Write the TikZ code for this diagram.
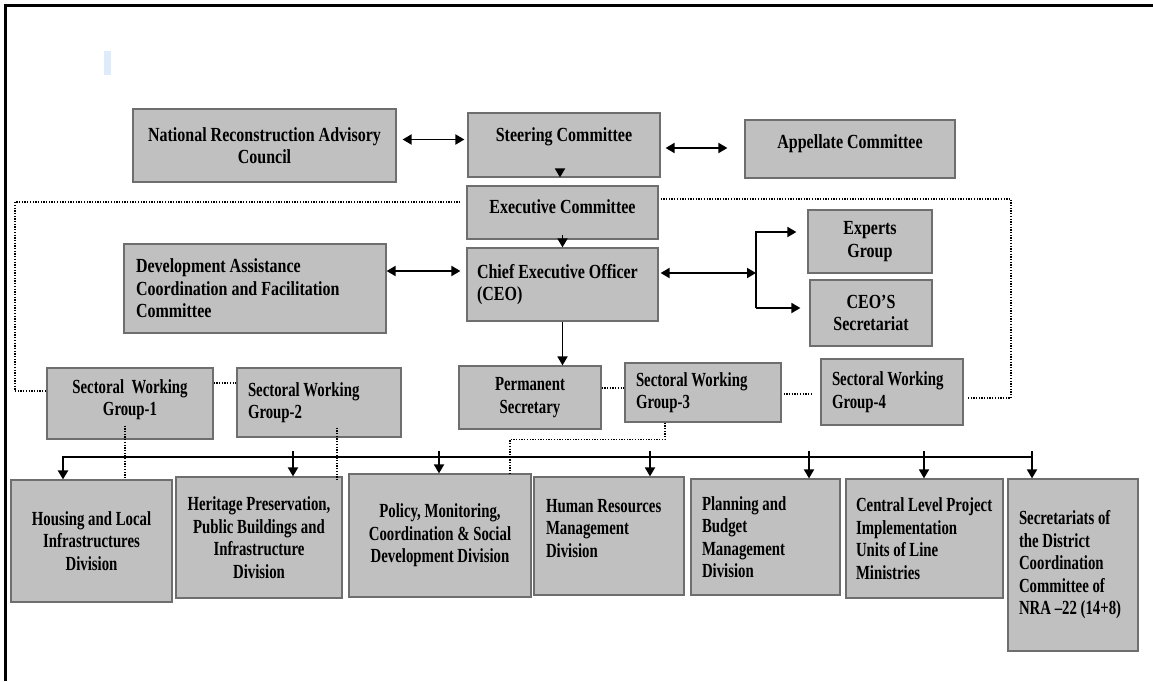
\documentclass[tikz,border=0pt]{standalone}
\usepackage{fontspec}
\setmainfont{Liberation Serif}[FakeStretch=0.8]
\newfontfamily\narrowserif{Liberation Serif}[FakeStretch=0.74]
\usetikzlibrary{arrows.meta}

\definecolor{boxfill}{RGB}{192,192,192}
\definecolor{boxline}{RGB}{110,110,110}
\definecolor{markblue}{RGB}{222,235,251}

\begin{document}
\begin{tikzpicture}[x=1pt, y=-1pt,
    unit/.style={draw=boxline, fill=boxfill, line width=1.2pt, inner sep=0pt,
        font=\fontsize{20}{22.5}\selectfont\bfseries},
    lower/.style={unit, font=\fontsize{20}{22.5}\selectfont\narrowserif\bfseries},
    sz/.style 2 args={minimum width=#1pt, minimum height=#2pt},
    mid/.style={align=center},
    flush/.style 2 args={align=flush left, text width=#1, inner xsep=#2},
    link/.style={line width=1.8pt, -{Triangle[length=9pt,width=10pt]}},
    both/.style={line width=1.9pt, {Triangle[length=9pt,width=10pt]}-{Triangle[length=9pt,width=10pt]}},
    dots/.style={line width=1.3pt, dash pattern=on 1.3pt off 1.4pt}]

\useasboundingbox (0,0) rectangle (1153,681);

% frame
    \draw[line width=3pt] (5,681) -- (5,5.5) -- (1153,5.5);
    \fill[markblue] (104,51) rectangle (111,75);

% top row
    \node[unit, sz={263}{73}, mid] (nrac) at (264.5,145.5) {National Reconstruction Advisory\\Council};
    \node[unit, sz={192}{64}, mid, text depth=20pt] (steer) at (564,145) {Steering Committee};
    \node[unit, sz={210}{58}, mid, text depth=14pt] (app) at (850,149) {Appellate Committee};

% executive level
    \node[unit, sz={191}{53}, mid, text depth=11pt] (exec) at (562.5,212.5) {Executive Committee};
    \node[unit, sz={191}{73}, flush={171pt}{10pt}] (ceo) at (562.5,284.5) {Chief Executive Officer\\(CEO)};
    \node[unit, sz={262}{89}, flush={238pt}{12pt}] (devcom) at (255,288.5) {Development Assistance\\Coordination and Facilitation\\Committee};
    \node[unit, sz={124}{63}, mid] (experts) at (870,241.5) {Experts\\Group};
    \node[unit, sz={122}{66}, mid] (ceosec) at (871,313) {CEO’S\\Secretariat};

% working groups
    \node[lower, sz={142}{63}, mid] (perm) at (530,397.5) {Permanent\\Secretary};
    \node[lower, sz={166}{71}, mid, text depth=12pt] (swgA) at (130,403.5) {Sectoral\ \ Working\\Group-1};
    \node[lower, sz={164}{69}, flush={142pt}{11pt}] (swgB) at (319,402.5) {Sectoral Working\\Group-2};
    \node[lower, sz={156}{59}, flush={134pt}{11pt}] (swgC) at (703,392.5) {Sectoral Working\\Group-3};
    \node[lower, sz={142}{66}, flush={120pt}{11pt}] (swgD) at (892,392) {Sectoral~Working\\Group-4};

% divisions
    \node[lower, sz={161}{122}, mid] (housing) at (91.5,541) {Housing and Local\\Infrastructures\\Division};
    \node[lower, sz={166}{121}, mid] (heritage) at (259,537.5) {Heritage Preservation,\\Public Buildings and\\Infrastructure\\Division};
    \node[lower, sz={182}{123}, mid] (policy) at (440,535.5) {Policy, Monitoring,\\Coordination \& Social\\Development Division};
    \node[lower, sz={150}{118}, flush={126pt}{12pt}, text depth=61pt] (hr) at (609,536) {Human Resources\\Management\\Division};
    \node[lower, sz={149}{116}, flush={127pt}{11pt}] (plan) at (765.5,537) {Planning and\\Budget\\Management\\Division};
    \node[lower, sz={157}{119}, flush={137pt}{10pt}] (central) at (924.5,538.5) {Central~Level~Project\\Implementation\\Units~of~Line\\Ministries};
    \node[lower, sz={130}{172}, flush={108pt}{11pt}] (secr) at (1073,565) {Secretariats~of\\the~District\\Coordination\\Committee~of\\NRA~–22~(14+8)};

% solid links
    \draw[both] ([xshift=6pt,yshift=6pt]nrac.east) -- ([xshift=-3pt,yshift=6pt]nrac.east -| steer.west);
    \draw[both] ([xshift=5pt,yshift=-3pt]steer.east) -- ([xshift=-17pt,yshift=-3pt]steer.east -| app.west);
    \draw[link] ([xshift=-4pt,yshift=8pt]steer.south) -- ([xshift=-4pt,yshift=8pt]steer.south |- exec.north);
    \draw[link] ([yshift=5pt]exec.south) -- (ceo.north);
    \draw[both] ([yshift=13.5pt]ceo.west -| devcom.east) -- ([xshift=-6pt,yshift=13.5pt]ceo.west);
    \draw[link] (ceo.south) -- (ceo.south |- perm.north);

% fork to experts
    \coordinate (fork) at (756,273);
    \draw[both] ([xshift=2pt,yshift=11.5pt]ceo.east) -- (fork);
    \draw[link] ([yshift=5pt]ceosec.west -| fork) -- ([yshift=9.5pt]experts.west -| fork)
        -- ([xshift=-11pt,yshift=9.5pt]experts.west);
    \draw[link] ([yshift=5pt]ceosec.west -| fork) -- ([xshift=-9pt,yshift=5pt]ceosec.west);

% dotted links
    \coordinate (leftrun) at (15,202);
    \coordinate (rightrun) at (1011,199);
    \draw[dots] ([xshift=-6pt,yshift=10.5pt]exec.west) -- (leftrun) |- ([yshift=12.5pt]swgA.west);
    \draw[dots] ([xshift=2pt,yshift=13.5pt]exec.east) -- (rightrun) |- ([xshift=3pt,yshift=-6pt]swgD.east);
    \draw[dots] ([yshift=20.5pt]swgA.east) -- ([yshift=20.5pt]swgA.east -| swgB.west);
    \draw[dots] ([yshift=9.5pt]perm.east) -- ([yshift=9.5pt]perm.east -| swgC.west);
    \draw[dots] ([xshift=2pt,yshift=-1.5pt]swgC.east) -- ([xshift=-8pt,yshift=-1.5pt]swgC.east -| swgD.west);
    \draw[dots] ([xshift=-5pt,yshift=14pt]swgA.south) -- ([xshift=-5pt]swgA.south |- housing.north);
    \draw[dots] ([xshift=18pt,yshift=10pt]swgB.south) -- ([xshift=18pt,yshift=-5pt]swgB.south |- heritage.north);
    \draw[dots] ([xshift=-38pt]swgC.south) -- ++(0,17) -| ([xshift=70pt]policy.north);

% bus to divisions
    \coordinate (busL) at (63,457);
    \coordinate (busR) at (1032,457);
    \draw[link, line width=2.2pt] (busR) -- (busL) -- (busL |- housing.north);
    \foreach \x/\n in {293/heritage, 439/policy, 650/hr, 809/plan, 924/central, 1032/secr}
    {
        \coordinate (tick-\n) at (\x,451);
        \draw[link] (tick-\n) -- (tick-\n |- \n.north);
    }

\end{tikzpicture}
\end{document}
